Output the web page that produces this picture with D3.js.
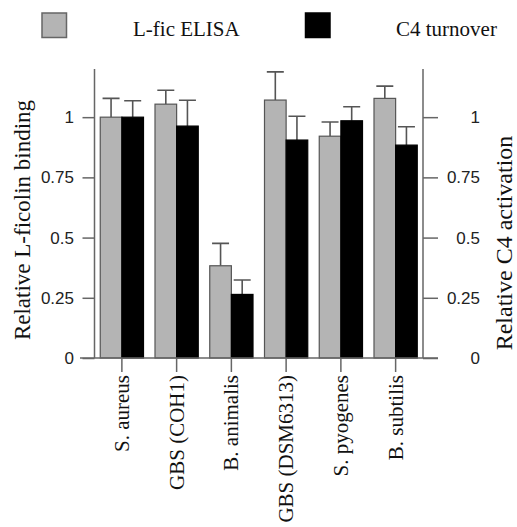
<!DOCTYPE html>
<html><head><meta charset="utf-8">
<script src="https://cdn.jsdelivr.net/npm/d3@7"></script>
<style>body{margin:0;background:#fff}svg{display:block}</style>
</head><body>
<script>
const categories = ["S. aureus","GBS (COH1)","B. animalis","GBS (DSM6313)","S. pyogenes","B. subtilis"];
const seriesNames = ["L-fic ELISA","C4 turnover"];
const elisa = [1.0, 1.054, 0.383, 1.071, 0.921, 1.078];
const elisaErr = [0.078, 0.058, 0.093, 0.117, 0.059, 0.051];
const c4 = [1.0, 0.963, 0.264, 0.905, 0.985, 0.884];
const c4Err = [0.068, 0.107, 0.060, 0.099, 0.058, 0.076];
const yTicks = [0, 0.25, 0.5, 0.75, 1];
const yTickLabels = ["0","0.25","0.5","0.75","1"];

const W = 517, H = 527;
const svg = d3.select("body").append("svg").attr("width", W).attr("height", H);
const serif = "'Liberation Serif','Times New Roman',serif";
const sans = "'Liberation Sans',Arial,sans-serif";
const axisCol = "#666";

const x = d3.scaleBand().domain(categories).range([94.5, 423]).paddingInner(0.21).paddingOuter(0.105);
const xs = d3.scaleBand().domain(seriesNames).range([0, x.bandwidth()]);
const y = d3.scaleLinear().domain([0, 1.2]).range([358, 69]);

const colors = {"L-fic ELISA":"#b4b4b4","C4 turnover":"#000"};
const strokes = {"L-fic ELISA":"#555","C4 turnover":"#000"};

const rows = categories.map((c,i)=>({cat:c, vals:[
  {s:"L-fic ELISA", v:elisa[i], e:elisaErr[i]},
  {s:"C4 turnover", v:c4[i], e:c4Err[i]}]}));

const g = svg.append("g");
const grp = g.selectAll("g.grp").data(rows).join("g").attr("transform", d=>`translate(${x(d.cat)},0)`);
// error bars
grp.selectAll("path.err").data(d=>d.vals).join("path")
  .attr("fill","none").attr("stroke","#555").attr("stroke-width",1.6)
  .attr("d", d=>{const cx = xs(d.s)+xs.bandwidth()/2; const yt=y(d.v+d.e);
     return `M${cx},${y(d.v)}V${yt}M${cx-8.5},${yt}H${cx+8.5}`;});
grp.selectAll("rect").data(d=>d.vals).join("rect")
  .attr("x", d=>xs(d.s)).attr("width", xs.bandwidth())
  .attr("y", d=>y(d.v)).attr("height", d=>y(0)-y(d.v))
  .attr("fill", d=>colors[d.s]).attr("stroke", d=>strokes[d.s]).attr("stroke-width",1.2);

// left axis
const yl = d3.axisLeft(y).tickValues(yTicks).tickSize(12).tickPadding(8.5).tickFormat((d,i)=>yTickLabels[i]);
const gl = svg.append("g").attr("transform","translate(94.5,0)").call(yl);
gl.select(".domain").attr("d", `M0,${y(0)}V${y(1.2)}`);
// right axis
const yr = d3.axisRight(y).tickValues(yTicks).tickSize(15).tickPadding(9).tickFormat((d,i)=>yTickLabels[i]);
const gr = svg.append("g").attr("transform","translate(423,0)").call(yr);
gr.select(".domain").attr("d", `M0,${y(0)}V${y(1.2)}`);
gr.selectAll(".tick text").attr("x", 57).attr("text-anchor","end");
// bottom axis
const xa = d3.axisBottom(x).tickSize(14).tickSizeOuter(0).tickFormat("");
const gb = svg.append("g").attr("transform",`translate(0,${y(0)})`).call(xa);
gb.select(".domain").attr("d", `M80,0H438`);
[gl,gr,gb].forEach(a=>{
  a.selectAll(".domain,.tick line").attr("stroke",axisCol).attr("stroke-width",1.5);
  a.selectAll(".tick text").attr("font-family",sans).attr("font-size",17).attr("fill","#222");
});
// category labels
svg.append("g").selectAll("text").data(categories).join("text")
  .attr("transform", d=>`translate(${x(d)+x.bandwidth()/2+7},375) rotate(-90)`)
  .attr("text-anchor","end").attr("font-family",serif).attr("font-size",21).attr("fill","#111")
  .text(d=>d);

// axis titles
svg.append("text").attr("transform","translate(30,220) rotate(-90)").attr("text-anchor","middle")
  .attr("font-family",serif).attr("font-size",23).attr("fill","#111").text("Relative L-ficolin binding");
svg.append("text").attr("transform","translate(512,243) rotate(-90)").attr("text-anchor","middle")
  .attr("font-family",serif).attr("font-size",24).attr("fill","#111").text("Relative C4 activation");

// legend
const leg = [{s:"L-fic ELISA", bx:42, tx:133},{s:"C4 turnover", bx:305.5, tx:396}];
const lg = svg.append("g").selectAll("g").data(leg).join("g");
lg.append("rect").attr("x",d=>d.bx).attr("y",13).attr("width",24.5).attr("height",24.5)
  .attr("fill",d=>colors[d.s]).attr("stroke",d=>d.s==="C4 turnover"?"#000":"#666").attr("stroke-width",1.5);
lg.append("text").attr("x",d=>d.tx).attr("y",36).attr("font-family",serif).attr("font-size",21).attr("fill","#111").text(d=>d.s);
</script>
</body></html>
